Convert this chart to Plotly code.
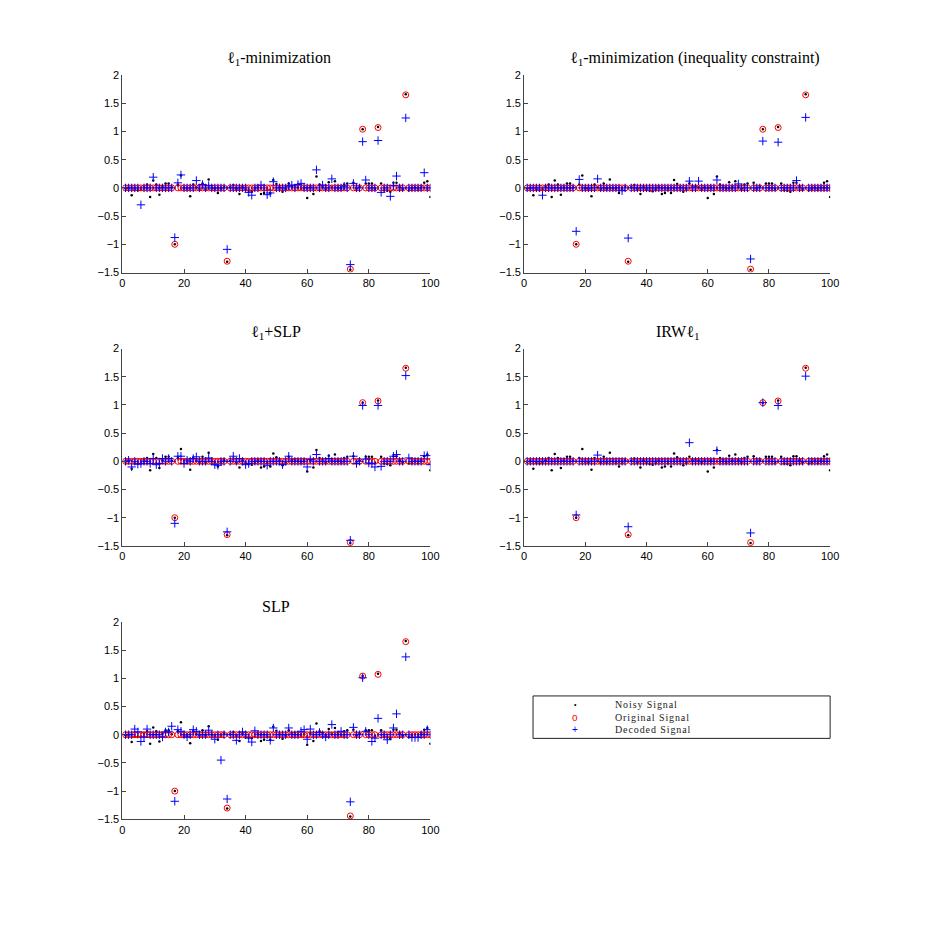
import plotly.graph_objects as go

# Индексы отсчётов 1..100
n = list(range(1, 101))

# Зашумлённый сигнал (чёрные точки) - один и тот же на всех графиках
noisy = [
    -0.01, 0.00, -0.13, -0.03, -0.04, -0.03, 0.02, 0.06, -0.16, 0.13,
    0.06, -0.12, 0.02, 0.08, 0.08, 0.01, -1.00, 0.06, 0.22, -0.01,
    -0.02, -0.15, 0.06, 0.01, -0.02, 0.08, -0.02, 0.15, 0.00, -0.02,
    -0.09, -0.02, 0.02, -1.31, 0.01, 0.05, -0.02, -0.11, 0.02, -0.03,
    -0.05, -0.06, -0.03, 0.02, -0.11, -0.09, -0.03, -0.09, 0.14, 0.07,
    0.01, -0.07, -0.02, 0.08, 0.02, 0.03, 0.01, -0.02, 0.01, -0.18,
    0.02, -0.11, 0.20, 0.06, 0.03, -0.02, 0.10, 0.02, 0.12, 0.02,
    -0.02, 0.06, 0.08, -1.45, 0.09, -0.01, 0.02, 1.04, 0.08, 0.08,
    0.08, -0.02, 1.08, 0.08, -0.04, -0.05, -0.07, 0.09, 0.09, 0.02,
    -0.02, 1.66, -0.04, -0.02, 0.01, -0.03, 0.02, 0.09, 0.12, -0.16,
]

# Исходный разреженный сигнал (красные кружки): ненулевые отсчёты
orig_nz = {17: -1.00, 34: -1.30, 74: -1.44, 78: 1.04, 83: 1.07, 92: 1.65}

# Восстановленные сигналы (синие плюсы): ненулевые отсчёты для каждого метода
dec_l1 = {
    6: -0.30, 10: 0.19, 17: -0.88, 18: 0.09, 19: 0.23, 24: 0.13, 26: 0.06,
    28: 0.04, 34: -1.09, 41: -0.08, 42: -0.13, 45: 0.05, 47: -0.12,
    48: -0.09, 49: 0.11, 54: 0.03, 55: 0.05, 57: 0.06, 58: 0.08, 63: 0.32,
    65: 0.05, 68: 0.16, 72: 0.03, 74: -1.36, 75: 0.08, 78: 0.82, 79: 0.14,
    83: 0.84, 84: -0.08, 87: -0.15, 88: 0.04, 89: 0.21, 92: 1.24, 98: 0.27,
}
dec_l1_ineq = {
    6: -0.13, 17: -0.77, 18: 0.15, 24: 0.16, 32: -0.05, 34: -0.89,
    54: 0.12, 57: 0.12, 63: 0.14, 70: 0.07, 74: -1.26, 78: 0.83,
    83: 0.81, 89: 0.13, 92: 1.25,
}
dec_l1_slp = {
    2: 0.02, 3: -0.10, 5: -0.05, 6: -0.04, 9: -0.04, 10: 0.05, 11: -0.06,
    12: -0.04, 13: 0.05, 15: 0.05, 17: -1.10, 18: 0.09, 19: 0.09,
    20: -0.04, 21: 0.02, 23: 0.05, 24: 0.08, 28: 0.06, 30: -0.06,
    31: -0.07, 34: -1.25, 36: 0.09, 38: 0.05, 40: -0.06, 41: -0.04,
    47: -0.07, 52: -0.06, 54: 0.09, 60: -0.10, 61: 0.03, 63: 0.12,
    67: 0.05, 74: -1.40, 75: 0.09, 76: -0.04, 78: 0.99, 79: 0.04,
    80: -0.03, 81: -0.04, 82: -0.10, 83: 0.99, 84: -0.09, 88: 0.09,
    89: 0.12, 92: 1.52, 93: 0.06, 98: 0.10, 99: 0.10, 100: -0.06,
}
dec_irw = {
    17: -0.95, 24: 0.11, 34: -1.16, 54: 0.33, 63: 0.19, 74: -1.27,
    78: 1.04, 83: 0.99, 92: 1.51,
}
dec_slp = {
    4: 0.10, 5: 0.05, 6: -0.12, 7: -0.04, 8: 0.10, 13: -0.04, 14: 0.05,
    15: 0.05, 16: 0.15, 17: -1.18, 18: 0.09, 19: 0.06, 21: -0.04, 23: 0.09,
    24: 0.06, 28: 0.08, 30: -0.08, 32: -0.45, 34: -1.14, 37: -0.10,
    39: 0.05, 41: -0.06, 42: -0.13, 43: 0.07, 48: -0.10, 49: 0.12,
    54: 0.12, 58: 0.06, 59: 0.09, 60: -0.08, 61: 0.10, 64: 0.04, 66: -0.04,
    68: 0.18, 71: 0.06, 74: -1.19, 75: 0.13, 78: 1.01, 79: 0.06,
    81: -0.12, 82: -0.06, 83: 0.29, 86: -0.09, 88: 0.12, 89: 0.37,
    92: 1.38, 94: -0.05, 95: -0.05, 96: -0.05, 99: 0.09,
}

titles = [
    "ℓ<sub>1</sub>-minimization",
    "ℓ<sub>1</sub>-minimization (inequality constraint)",
    "ℓ<sub>1</sub>+SLP",
    "IRWℓ<sub>1</sub>",
    "SLP",
]
# сдвиг заголовка по горизонтали, px (длинный заголовок в MATLAB уехал вправо)
title_shift = [3, 18, 0, 0, 0]
decoded = [dec_l1, dec_l1_ineq, dec_l1_slp, dec_irw, dec_slp]

# Легенда (рисуем текстом, чтобы строки шли плотно, как в MATLAB)
legend_names = ["Noisy Signal", "Original Signal", "Decoded Signal"]
legend_symbols = ["•", "o", "+"]
legend_colors = ["black", "red", "blue"]


def full(d):
    return [d.get(i, 0.0) for i in n]


original = full(orig_nz)

W = 926
# Положение осей в пикселях (лево, право) и (верх, низ)
cols = [(121, 433), (528, 838)]
rows = [(70, 270), (347, 547), (624, 824)]
cells = [(0, 0), (0, 1), (1, 0), (1, 1), (2, 0)]

fig = go.Figure()
layout = {}
annotations = []
for k, (title, dec) in enumerate(zip(titles, decoded)):
    r, c = cells[k]
    xa = "x" if k == 0 else f"x{k + 1}"
    ya = "y" if k == 0 else f"y{k + 1}"
    fig.add_trace(go.Scatter(
        x=n, y=noisy, mode="markers", name="Noisy Signal",
        marker=dict(color="black", size=2.5, symbol="circle"),
        xaxis=xa, yaxis=ya, showlegend=False,
    ))
    fig.add_trace(go.Scatter(
        x=n, y=original, mode="markers", name="Original Signal",
        marker=dict(color="red", size=6, symbol="circle-open",
                    line=dict(color="red", width=1)),
        xaxis=xa, yaxis=ya, showlegend=False,
    ))
    fig.add_trace(go.Scatter(
        x=n, y=full(dec), mode="markers", name="Decoded Signal",
        marker=dict(color="blue", size=6, symbol="cross-thin-open",
                    line=dict(color="blue", width=1)),
        xaxis=xa, yaxis=ya, showlegend=False,
    ))
    x0, x1 = cols[c]
    y0, y1 = rows[r]
    axcommon = dict(showline=True, linecolor="#444", linewidth=1,
                    ticks="inside", ticklen=4, tickcolor="#444",
                    showgrid=False, zeroline=False, mirror=False,
                    tickfont=dict(family="Liberation Sans", size=11, color="black"))
    layout["xaxis" if k == 0 else f"xaxis{k + 1}"] = dict(
        domain=[x0 / W, x1 / W], range=[0, 100], anchor=ya,
        tickvals=[0, 20, 40, 60, 80, 100], **axcommon)
    layout["yaxis" if k == 0 else f"yaxis{k + 1}"] = dict(
        domain=[1 - y1 / W, 1 - y0 / W], range=[-1.5, 2], anchor=xa,
        tickvals=[-1.5, -1, -0.5, 0, 0.5, 1, 1.5, 2], **axcommon)
    annotations.append(dict(
        text=title, x=(x0 + x1) / 2 / W, y=1 - (y0 - 5) / W,
        xref="paper", yref="paper", xanchor="center", yanchor="bottom",
        xshift=title_shift[k], showarrow=False,
        font=dict(family="Liberation Serif", size=16, color="black"),
    ))

# Строки легенды
for i, (name, sym, col) in enumerate(zip(legend_names, legend_symbols, legend_colors)):
    yc = 1 - (708 + 12.5 * i) / W
    annotations.append(dict(
        text=sym, x=580 / W, y=yc, xref="paper", yref="paper",
        xanchor="center", yanchor="middle", showarrow=False,
        font=dict(family="Liberation Sans", size=7 if i == 0 else 10, color=col),
    ))
    annotations.append(dict(
        text=f'<span style="letter-spacing:0.9px">{name}</span>',
        x=618 / W, y=yc, xref="paper", yref="paper",
        xanchor="left", yanchor="middle", showarrow=False,
        font=dict(family="Liberation Serif", size=10, color="#222"),
    ))

fig.update_layout(
    **layout,
    annotations=annotations,
    width=W, height=W,
    margin=dict(l=0, r=0, t=0, b=0),
    paper_bgcolor="white", plot_bgcolor="white",
    showlegend=False,
    shapes=[dict(type="rect", xref="paper", yref="paper",
                 x0=537 / W, x1=838 / W, y0=1 - 742 / W, y1=1 - 699 / W,
                 line=dict(color="#222", width=1))],
)

fig.write_html(
    "out.html",
    config={"displayModeBar": False},
    post_script=(
        "document.documentElement.style.margin='0';"
        "document.documentElement.style.overflow='hidden';"
        "document.body.style.margin='0';"
        "document.body.style.overflow='hidden';"
    ),
)
